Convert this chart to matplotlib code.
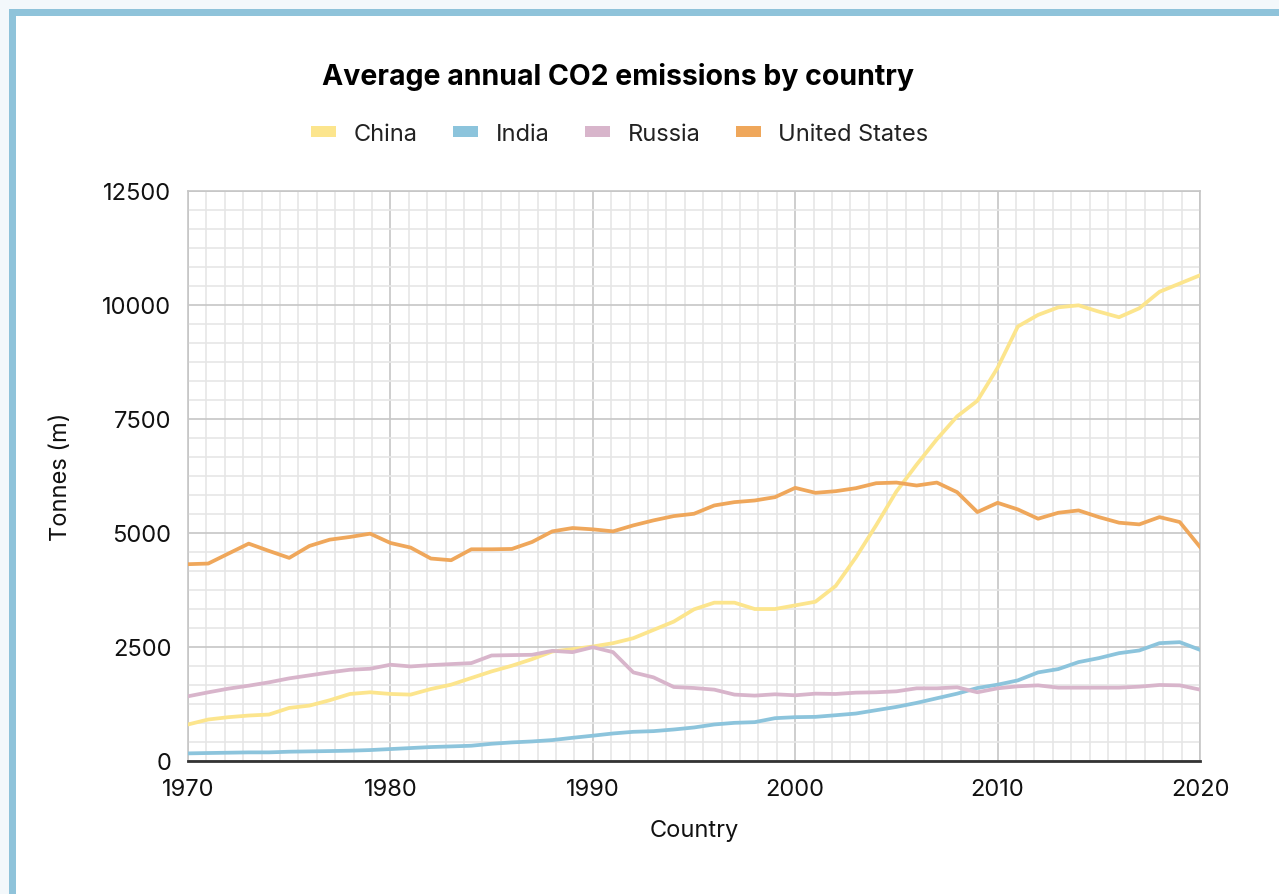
import matplotlib
matplotlib.use("Agg")
import matplotlib.pyplot as plt
from matplotlib.ticker import MultipleLocator
from matplotlib.patches import Rectangle
import numpy as np

plt.rcParams['font.family'] = ['Inter', 'DejaVu Sans']

years = list(range(1970, 2021))

china = [801, 910, 961, 997, 1019, 1164, 1215, 1332, 1470, 1507,
         1470, 1456, 1579, 1674, 1820, 1965, 2089, 2234, 2402, 2453,
         2511, 2584, 2693, 2875, 3057, 3326, 3472, 3472, 3333, 3333,
         3413, 3493, 3839, 4467, 5170, 5910, 6500, 7056, 7558, 7899,
         8623, 9529, 9783, 9949, 9993, 9855, 9732, 9928, 10290, 10471,
         10652]
india = [167, 175, 182, 189, 189, 204, 211, 218, 226, 240,
         262, 284, 306, 320, 335, 378, 408, 429, 459, 509,
         555, 604, 640, 655, 691, 735, 801, 837, 852, 939,
         961, 968, 1004, 1041, 1114, 1186, 1274, 1376, 1477, 1601,
         1674, 1768, 1943, 2016, 2169, 2256, 2365, 2424, 2584, 2606,
         2438]
russia = [1419, 1506, 1587, 1652, 1725, 1812, 1878, 1943, 2001, 2023,
          2111, 2074, 2103, 2125, 2147, 2314, 2322, 2329, 2416, 2387,
          2496, 2387, 1943, 1834, 1623, 1601, 1565, 1456, 1434, 1463,
          1441, 1477, 1470, 1499, 1507, 1528, 1594, 1594, 1616, 1507,
          1594, 1638, 1659, 1608, 1608, 1608, 1608, 1630, 1667, 1659,
          1565]
usa = [4316, 4330, 4549, 4767, 4607, 4454, 4716, 4854, 4913, 4985,
       4782, 4680, 4440, 4403, 4643, 4643, 4650, 4803, 5036, 5109,
       5080, 5036, 5167, 5277, 5371, 5422, 5604, 5677, 5713, 5786,
       5990, 5881, 5917, 5983, 6092, 6106, 6041, 6106, 5895, 5459,
       5662, 5517, 5313, 5444, 5495, 5349, 5226, 5189, 5349, 5240,
       4694]

series_names = ["China", "India", "Russia", "United States"]
series_colors = ["#fce58d", "#8cc4dc", "#d8b5cb", "#efa75b"]
series_values = [china, india, russia, usa]

x_ticks = [1970, 1980, 1990, 2000, 2010, 2020]
y_ticks = [0, 2500, 5000, 7500, 10000, 12500]

W, H = 1279, 895
fig = plt.figure(figsize=(W / 100, H / 100), dpi=100)
fig.patch.set_facecolor("white")

# screenshot frame
fig.patches.append(Rectangle((0, 1 - 10 / H), 1, 10 / H, transform=fig.transFigure,
                             facecolor="#f3f8fb", edgecolor="none", zorder=0))
fig.patches.append(Rectangle((0, 0), 9 / W, 1, transform=fig.transFigure,
                             facecolor="#f3f8fb", edgecolor="none", zorder=0))
fig.patches.append(Rectangle((9 / W, 1 - 17 / H), 1, 7 / H, transform=fig.transFigure,
                             facecolor="#8fc3da", edgecolor="none", zorder=1))
fig.patches.append(Rectangle((9 / W, 0), 7 / W, 1 - 10 / H, transform=fig.transFigure,
                             facecolor="#8fc3da", edgecolor="none", zorder=1))

left, right, top, bottom = 188, 1200, 192, 762
ax = fig.add_axes([left / W, 1 - bottom / H, (right - left) / W, (bottom - top) / H])

for name, col, vals in zip(series_names, series_colors, series_values):
    ax.plot(years, vals, color=col, lw=2.7, label=name, solid_joinstyle="round", zorder=3)

ax.set_xlim(1970, 2020)
ax.set_ylim(0, 12500)
ax.set_xticks(x_ticks)
ax.set_yticks(y_ticks)
ax.xaxis.set_minor_locator(MultipleLocator(10 / 11))
ax.yaxis.set_minor_locator(MultipleLocator(2500 / 6))
ax.grid(which="major", color="#c6c6c6", lw=1.2, zorder=1)
ax.grid(which="minor", color="#e6e6e6", lw=1.2, zorder=0)
ax.set_axisbelow(True)
ax.tick_params(which="both", length=0)
ax.tick_params(axis="y", labelsize=17, pad=12, colors="#111111")
ax.tick_params(axis="x", labelsize=17, pad=12, colors="#111111")

for s in ["top", "right", "left"]:
    ax.spines[s].set_color("#c6c6c6")
    ax.spines[s].set_linewidth(1.2)
ax.spines["bottom"].set_color("#333333")
ax.spines["bottom"].set_linewidth(2)
ax.spines["bottom"].set_zorder(4)

ax.set_xlabel("Country", fontsize=17, labelpad=14, color="#111111")
ax.set_ylabel("Tonnes (m)", fontsize=17, labelpad=22, color="#111111")

fig.text(618 / W, 1 - 77 / H, "Average annual CO2 emissions by country",
         ha="center", va="center", fontsize=20.5, fontweight="bold", color="#000000")

handles = [Rectangle((0, 0), 1, 1, facecolor=c, edgecolor="none") for c in series_colors]
leg = fig.legend(handles, series_names, loc="center", bbox_to_anchor=(620 / W, 1 - 135 / H),
                 ncol=4, frameon=False, fontsize=17, handlelength=1.05, handleheight=0.35,
                 handletextpad=0.75, columnspacing=1.5, borderpad=0, borderaxespad=0)
for t in leg.get_texts():
    t.set_color("#222222")

fig.savefig("out.png", dpi=100)
